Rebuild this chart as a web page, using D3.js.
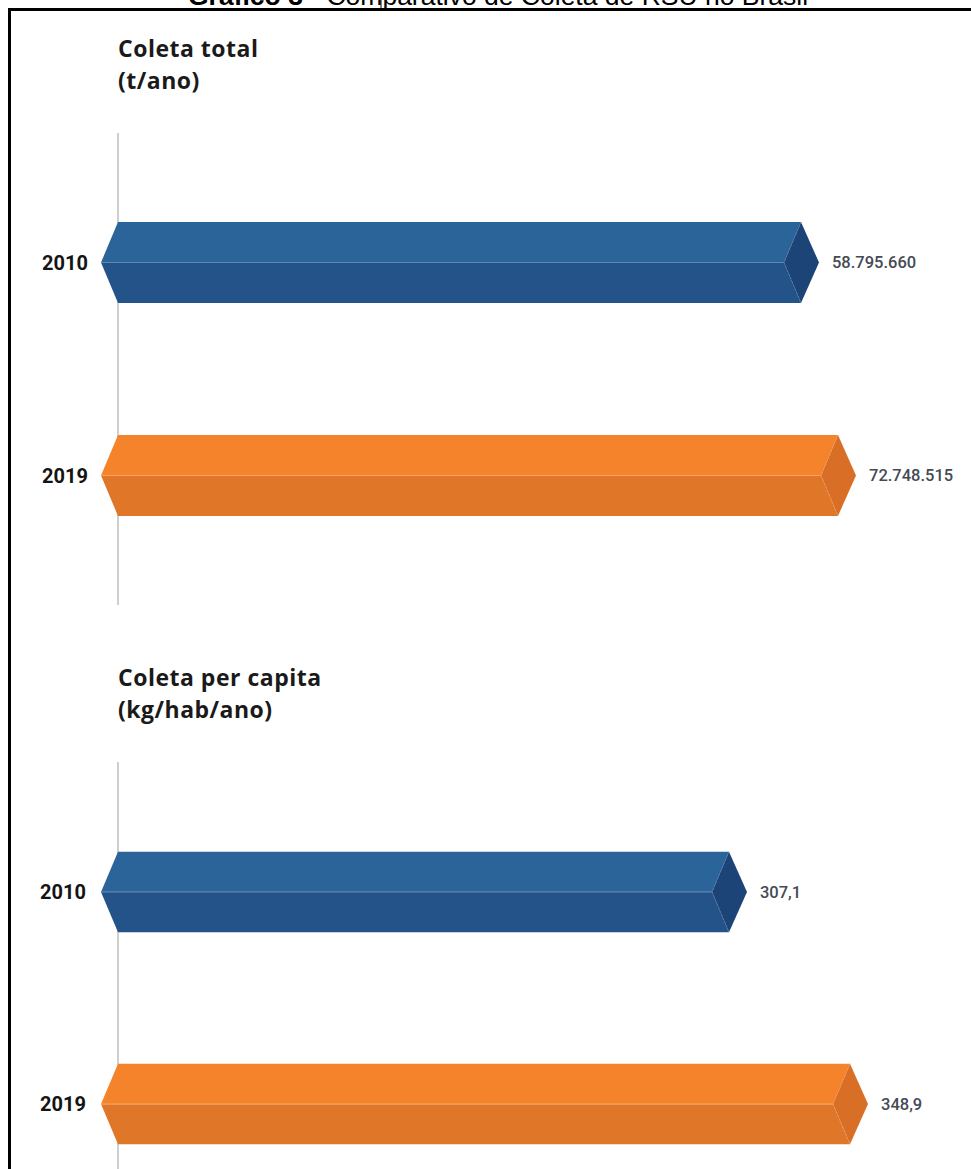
<!DOCTYPE html>
<html>
<head>
<meta charset="utf-8">
<script src="https://cdn.jsdelivr.net/npm/d3@7"></script>
<style>
  html, body { margin: 0; padding: 0; background: #ffffff; }
  svg { display: block; }
</style>
</head>
<body>
<div id="chart"></div>
<script>
// ---- data ----
const chartTitleBold = "Gráfico 3";
const chartTitleRest = " - Comparativo de Coleta de RSU no Brasil";
const years = ["2010", "2019"];
const totalValues = [58795660, 72748515];
const totalLabels = ["58.795.660", "72.748.515"];
const perCapitaValues = [307.1, 348.9];
const perCapitaLabels = ["307,1", "348,9"];
const totalTitle = ["Coleta total", "(t/ano)"];
const perCapitaTitle = ["Coleta per capita", "(kg/hab/ano)"];
// stylised (non-zero) baselines of the original infographic
const totalBaseline = -198.76e6;
const perCapitaBaseline = 96.03;

const W = 971, H = 1169;
const svg = d3.select("#chart").append("svg")
  .attr("width", W).attr("height", H);

// page title (cut off at top, as in the source)
const t = svg.append("text")
  .attr("x", 188).attr("y", 5)
  .attr("font-family", "Liberation Sans, Arial, sans-serif")
  .attr("font-size", 26.5)
  .attr("fill", "#000");
t.append("tspan").attr("font-weight", "bold").text(chartTitleBold);
t.append("tspan").text(chartTitleRest);

svg.append("line").attr("x1", 381).attr("x2", 381).attr("y1", 0).attr("y2", 9)
  .attr("stroke", "#000").attr("stroke-width", 1);

// frame
svg.append("rect")
  .attr("x", 9.5).attr("y", 9.5).attr("width", 1100).attr("height", 1300)
  .attr("fill", "none").attr("stroke", "#000").attr("stroke-width", 3);

const axisX = 118;
const d = 17;
const font = "Roboto, 'Noto Sans', sans-serif";
const titleFont = "'Open Sans', Roboto, sans-serif";

const palette = {
  "2010": { top: "#2a6499", bottom: "#24538a", cap: "#1d4476", line: "#5d88b6" },
  "2019": { top: "#f4832b", bottom: "#e07628", cap: "#d96f27", line: "#f6a365" }
};

function panel(cfg) {
  const g = svg.append("g");
  const y = d3.scaleBand().domain(years)
    .range(cfg.yRange).paddingInner(0.62).paddingOuter(0.418);
  const x = d3.scaleLinear().domain([cfg.baseline, cfg.domainMax])
    .range([axisX, cfg.xMax]);

  // titles
  g.selectAll("text.ptitle").data(cfg.title).join("text")
    .attr("class", "ptitle")
    .attr("x", axisX)
    .attr("y", (dd, i) => cfg.titleY + i * 32)
    .attr("font-family", titleFont).attr("font-weight", "bold")
    .attr("font-size", 23).attr("fill", "#1a1a1a")
    .attr("letter-spacing", "0.5")
    .text(dd => dd);

  // axis line
  g.append("line")
    .attr("x1", axisX).attr("x2", axisX)
    .attr("y1", cfg.axisY[0]).attr("y2", cfg.axisY[1])
    .attr("stroke", "#cfcfcf").attr("stroke-width", 2);

  const bars = g.selectAll("g.bar").data(years.map((yr, i) => ({
    year: yr, value: cfg.values[i], label: cfg.labels[i]
  }))).join("g").attr("class", "bar");

  bars.each(function (b) {
    const s = d3.select(this);
    const c = palette[b.year];
    const y0 = y(b.year), y1 = y0 + y.bandwidth(), ym = y0 + y.bandwidth() / 2;
    const xv = x(b.value);
    s.append("path")
      .attr("d", `M${axisX},${y0}L${xv},${y0}L${xv - d},${ym}L${axisX - d},${ym}Z`)
      .attr("fill", c.top);
    s.append("path")
      .attr("d", `M${axisX - d},${ym}L${xv - d},${ym}L${xv},${y1}L${axisX},${y1}Z`)
      .attr("fill", c.bottom);
    s.append("path")
      .attr("d", `M${xv},${y0}L${xv + d + 1},${ym}L${xv},${y1}L${xv - d},${ym}Z`)
      .attr("fill", c.cap);
    s.append("line")
      .attr("x1", axisX - d).attr("x2", xv - d).attr("y1", ym).attr("y2", ym)
      .attr("stroke", c.line).attr("stroke-width", 1.2);
    s.append("path")
      .attr("d", `M${xv},${y0}L${xv - d},${ym}L${xv},${y1}`)
      .attr("fill", "none").attr("stroke", c.line).attr("stroke-width", 0.8)
      .attr("stroke-dasharray", "2,2").attr("opacity", 0.7);

    s.append("text")
      .attr("x", cfg.yearX).attr("y", ym)
      .attr("dy", "0.36em")
      .attr("text-anchor", "end")
      .attr("font-family", font).attr("font-weight", "bold")
      .attr("font-size", 20).attr("fill", "#141414")
      .attr("letter-spacing", "0")
      .text(b.year);

    s.append("text")
      .attr("x", xv + d + 14).attr("y", ym)
      .attr("dy", "0.36em")
      .attr("font-family", font).attr("font-weight", 500)
      .attr("font-size", 16.5).attr("fill", "#454a52")
      .text(b.label);
  });
}

panel({
  title: totalTitle, titleY: 57,
  yRange: [133, 605], axisY: [133, 605],
  values: totalValues, labels: totalLabels,
  baseline: totalBaseline, domainMax: d3.max(totalValues), xMax: 838,
  yearX: 88
});

panel({
  title: perCapitaTitle, titleY: 686,
  yRange: [763, 1233], axisY: [762, 1169],
  values: perCapitaValues, labels: perCapitaLabels,
  baseline: perCapitaBaseline, domainMax: d3.max(perCapitaValues), xMax: 850,
  yearX: 86
});
</script>
</body>
</html>
